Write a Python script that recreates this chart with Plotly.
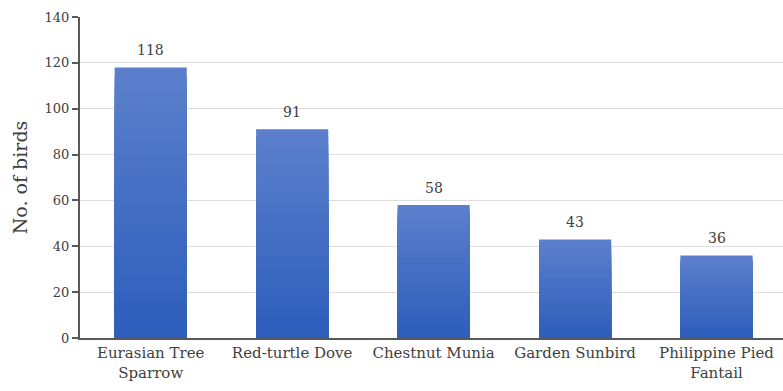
import plotly.graph_objects as go

categories = ["Eurasian Tree<br>Sparrow", "Red-turtle Dove", "Chestnut Munia", "Garden Sunbird", "Philippine Pied<br>Fantail"]
counts = [118, 91, 58, 43, 36]
y_ticks = [0, 20, 40, 60, 80, 100, 120, 140]

FONT = "'DejaVu Serif', serif"
TOP = (0x5c, 0x80, 0xcc)
BOTTOM = (0x2d, 0x5d, 0xbb)
N = 30

def mix(t):
    return "rgb(%d,%d,%d)" % tuple(round(b + (a - b) * t) for a, b in zip(TOP, BOTTOM))

fig = go.Figure()
# layered bars to emulate the vertical gradient (light top, dark bottom)
for k in range(N, 0, -1):
    fig.add_trace(go.Bar(
        x=categories, y=[v * k / N for v in counts], width=0.51,
        marker=dict(color=mix((k - 0.5) / N), line=dict(width=0)),
        hoverinfo="skip",
    ))
for c, v in zip(categories, counts):
    fig.add_annotation(x=c, y=v, text=str(v), showarrow=False, yanchor="bottom", yshift=7,
                       font=dict(family=FONT, size=14, color="#404040"))

fig.update_layout(
    width=783, height=391,
    margin=dict(l=80, r=0, t=17, b=53),
    paper_bgcolor="white", plot_bgcolor="white",
    showlegend=False, barmode="overlay",
    font=dict(family=FONT, size=14, color="#404040"),
)
fig.update_xaxes(
    range=[-0.5, 4.47], showline=True, linecolor="#595959", linewidth=2,
    ticks="", tickfont=dict(family=FONT, size=15, color="#404040"),
    showgrid=False,
)
fig.update_yaxes(
    range=[0, 140], tickvals=y_ticks, showline=True, linecolor="#595959", linewidth=2,
    ticks="outside", ticklen=6, tickcolor="#595959", tickwidth=2,
    gridcolor="#dedede", gridwidth=1, zeroline=False,
    tickfont=dict(family=FONT, size=13, color="#404040"),
    title=dict(text="No. of birds", font=dict(family=FONT, size=19, color="#404040"), standoff=12),
)
fig.write_html("out.html")
